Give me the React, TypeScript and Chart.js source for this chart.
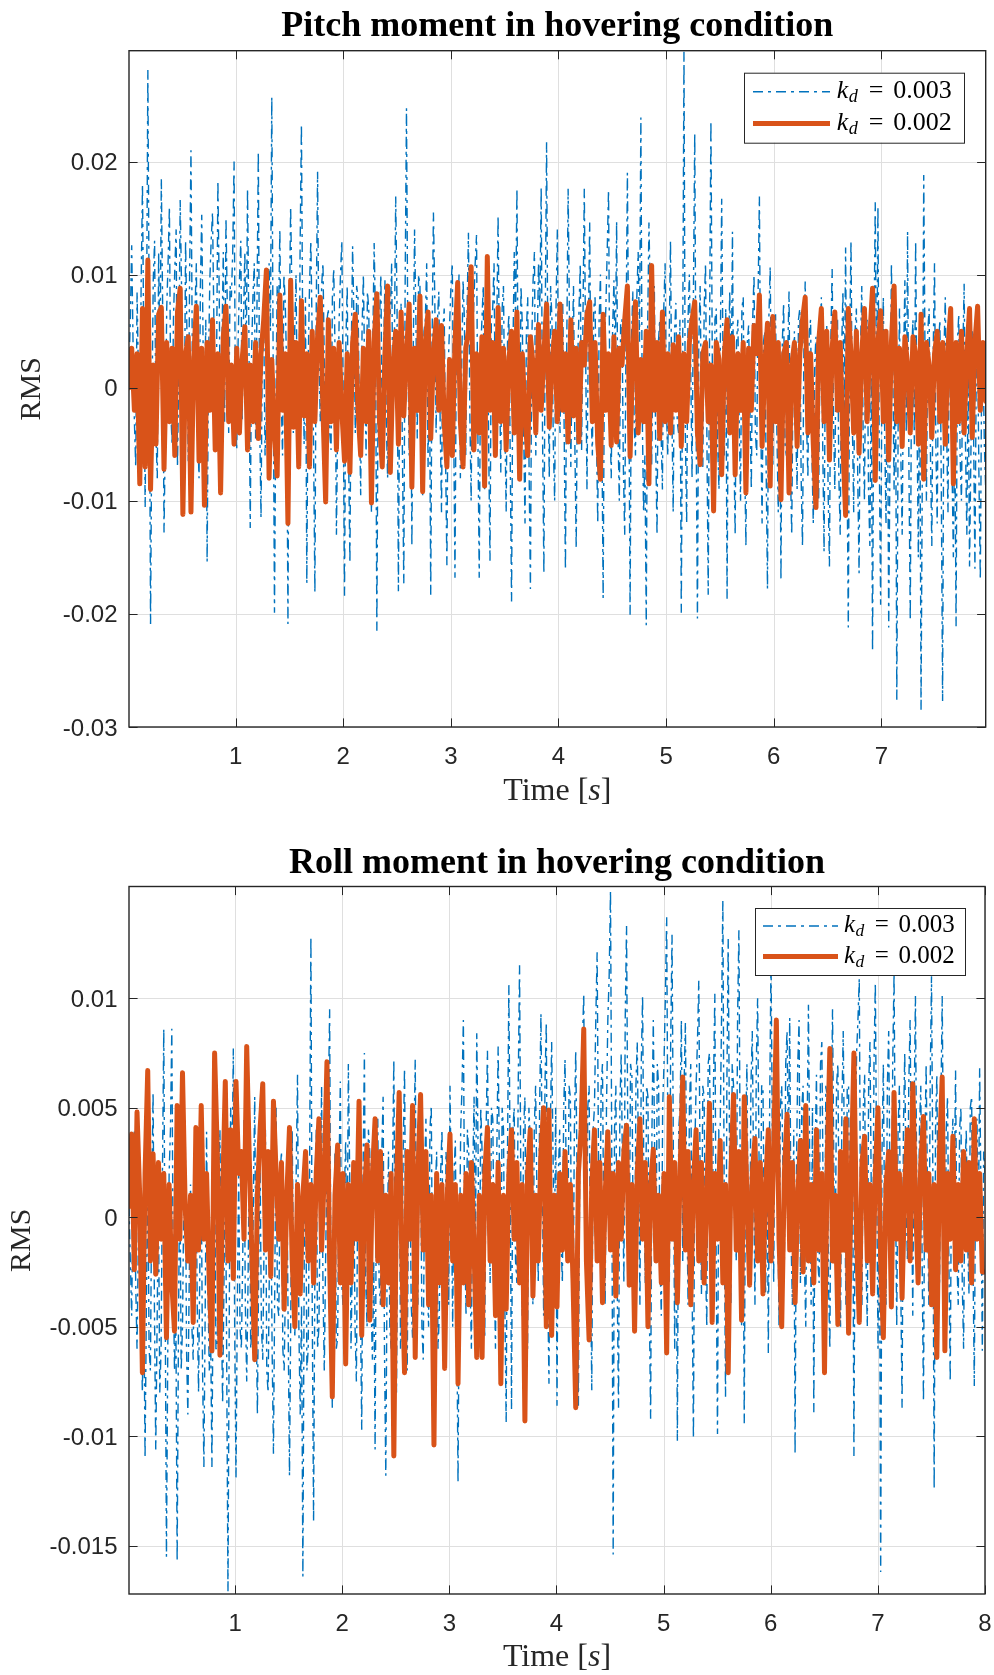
import React, { useEffect, useRef } from "react";
import { Chart, registerables } from "chart.js";

Chart.register(...registerables);

// ---------------- data (values in units of 1e-4) ----------------
const SERIES_LABELS = ["0.003", "0.002"];

const PITCH_TIME = [0.01, 7.97];
const PITCH_X_TICKS = [1, 2, 3, 4, 5, 6, 7];
const PITCH_Y_TICKS = [-0.03, -0.02, -0.01, 0, 0.01, 0.02];
const PITCH_Y_RANGE = [-0.03, 0.0298];

const ROLL_TIME = [0.01, 8.0];
const ROLL_X_TICKS = [1, 2, 3, 4, 5, 6, 7, 8];
const ROLL_Y_TICKS = [-0.015, -0.01, -0.005, 0, 0.005, 0.01];
const ROLL_Y_RANGE = [-0.0172, 0.0151];

const PITCH_KD3 = [
  20, 60, 126, 40, -30, -70, 85, 10, -55, 90, 180, 30, -106, 50, 281, 60, -209, -20, 95, 130, -40, -80, 120, 20, 185, 70, -128, -40, 70, 110, 160, -20, -50, 60, 105, 140, -70, 20, 166, 90, -30, -60, 130, 50, -65, 100, 210, 30, -20, 70, 110, -40, -80, 90, 153, 40, -35, 60, -154, 20, 95, 130, 155, 60, -45, 20, 183, 80, -60, 40, 120, -30, 150, 70, -40, 90, 80, 120, 200, -20,
  -55, 40, 95, 130, -30, 60, 120, 20, 176, 50, -124, 30, 80, 110, -45, 70, 209, -30, -115, 40, 60, -60, -20, 90, 110, 50, 257, 30, -199, -20, 90, 60, 140, -10, -60, 100, 75, 20, -209, 60, 160, 80, -40, 50, 100, -30, -70, 120, 233, 40, -50, 80, -173, 20, 90, 130, 45, -50, -181, 70, 191, 30, -30, 90, 110, 20, -90, 60, 70, -40, -55, 80, 105, 30, -130, -20, 60, 100, 130, -10,
  -184, 40, 90, -60, -155, 30, 125, 60, -40, 90, 80, -20, -95, 50, 100, 10, -60, 85, 70, -50, -110, 40, 128, 60, -215, 20, 60, 100, -50, 30, 95, -30, -80, 80, 65, 110, -30, 40, 169, 70, -180, 20, 75, -60, -173, 90, 247, 40, -60, 50, -140, 30, 140, 60, -45, 100, 90, -20, -95, 50, 60, 110, -70, 30, -183, 40, 155, 80, -40, 60, 85, -30, -110, 50, 70, -60, -157, 20, 55, 90,
  110, -30, -168, 40, 50, 100, -80, 20, 95, 60, -60, 70, 137, -20, -100, 40, 75, 110, 135, -40, -168, 30, 60, 90, -90, 40, 85, -50, -153, 60, 70, 110, -40, 50, 152, 20, -75, 70, 90, -30, -110, 40, 65, -60, -189, 30, 120, 60, 176, -20, -70, 90, 55, -40, -120, 50, 80, -70, -178, 40, 95, 120, -60, 30, 110, 70, 177, -40, -164, 60, 217, 20, -80, 90, 60, -50, -100, 70, 140, -10,
  -40, 50, 75, -30, -161, 40, 176, 60, -70, 30, 90, -50, -142, 20, 65, 110, -55, 60, 176, 30, -90, 50, 146, -20, -60, 70, 80, -40, -120, 60, 100, -30, -186, 40, 70, 120, 175, -20, -80, 50, 95, 20, 147, -40, -100, 60, 60, -70, -130, 50, 190, 20, -201, 40, 85, -30, -60, 80, 120, 40, 239, -20, -110, -60, -210, 50, 146, 80, -70, 30, 90, -50, -130, 40, 60, -40, -90, 70, 110, -20,
  -60, 40, 130, -20, -110, 50, 75, -30, -40, 60, -199, 20, 297, -40, -120, 60, 100, 20, -80, 80, 225, -30, -204, 40, 90, -20, -70, 70, 110, -40, -183, 50, 236, 30, -110, 60, 70, -50, -90, 40, 167, 20, -60, 70, -187, 30, 85, -20, 138, -50, -130, 40, 60, -30, -100, 70, 80, -60, -140, 40, 55, -20, -90, 60, 100, -40, -60, 80, 169, -30, -120, 40, 50, -70, -178, 60, 107, -20, -70, 50,
  65, -40, -110, 20, -170, 40, 75, -50, -60, 30, 85, -70, -130, 20, 50, -40, -90, 60, 70, -80, -140, 30, 94, -30, -80, 50, 60, -60, -120, 20, 45, -70, -100, 40, 80, -50, -145, 30, 55, -90, -158, 40, 105, -30, -90, 50, 60, -80, -130, 30, 85, -20, 124, -60, -212, 40, 130, -30, -110, 50, 70, -80, -164, 30, 90, -40, -100, 50, 60, -90, -140, 20, -233, 40, 164, -20, 160, -60, -192, 20,
  80, -40, -120, 30, -212, -50, 110, 20, -90, 40, -276, -30, 70, -60, -130, 20, 95, -40, 138, -70, -206, 30, 60, -50, 130, -30, -150, 40, -285, -60, 188, 20, -100, 50, 70, -60, -140, 30, 110, -50, -120, 40, 60, -80, -277, 30, 80, -40, -110, 50, 55, -70, -150, -20, -211, 40, 65, -60, -100, 30, 92, -50, -130, 20, -158, -60, 50, -40, -160, 20, 40, -80, -170, 10, 30, -50, -90,
];

const PITCH_KD2 = [
  0, 35, -20, 30, -85, 70, -70, 113, -90, 20, -50, 65, 71, -72, 40, -30, 35, -60, 67, 88, -112, 30, 45, -110, 25, 72, -65, 35, -104, 40, -20, 60, -55, 30, -93, 45, 72, -30, 20, -50,
  35, -40, 25, 54, -55, 20, -30, 40, -45, 30, 60, 104, -80, 25, -40, -78, 82, -20, 30, -120, 95, -35, 40, -70, 77, -25, 30, -70, 50, -30, 45, 80, -20, -101, 60, -30, 35, -55, 40, -20,
  -65, 30, -75, 40, 65, -20, -60, 35, -30, 50, -102, 40, 83, -30, -70, 30, 90, -75, 20, 50, -50, 67, -25, 30, 74, -88, 35, -20, 81, -92, 40, 67, -45, 30, 60, -20, 55, -30, -70, 25,
  -60, 40, 93, -30, -70, 35, 50, 107, -55, 30, -40, 45, -87, 116, -20, 40, -60, 71, -30, 35, -55, 25, 50, -40, 67, -81, 30, -25, -60, 45, 20, -40, 56, -20, 30, 74, -35, 20, 50, -30,
  74, -20, 30, -48, 60, -25, 35, -48, 40, 20, 65, 76, -30, 40, -50, -81, 65, -20, 30, -51, 45, -48, 35, 20, 60, 90, -61, 30, 76, -40, 25, -30, 50, -85, 108, -20, 40, -45, 67, -30,
  30, -40, 38, -20, 45, -52, 30, -30, 40, 60, 76, -40, -68, 30, 40, -30, 20, -109, 40, 25, -77, 30, 60, -40, 45, -77, 30, -20, 40, -93, 35, -20, 55, 30, 82, -52, 20, 57, -87, 63,
  -30, 40, -99, 30, 40, -93, 20, 40, -52, 30, 60, 80, -40, 30, -50, -106, 40, 70, -30, 50, -64, 35, 67, -20, 40, -50, -113, 70, 30, -40, 50, -58, 30, 70, -30, 45, 88, -82, 40, 68,
  -30, 50, -64, 40, 90, -30, 35, -52, 45, 20, -40, 45, 30, -50, 65, -81, 40, 20, -44, 30, 50, -30, 40, -50, 35, 70, -85, 40, -30, 50, -40, 30, 70, -44, 40, 72, -20, 40, -12,
];

const ROLL_KD3 = [
  5, -20, -45, 10, 40, -30, -60, -10, 20, -50, -80, -30, -110, -40, 30, -60, -70, 10, 57, -40, -106, -50, 10, -80, -60, 20, 86, -30, -155, -60, 20, 40, 86, -20, -70, -40, -157, -50, 30, -70, -50, 10, 45, -60, -90, -30, 15, -50, -65, 10, 35, -40, -80, -20, 20, -70, -114, -40, 39, -30, -70, -50, -114, -20, 25, -60, -60, 10, 40, -40, -85, -30, 30, -60, -171, -40, 50, 20, 77, -50,
  -119, -40, 20, -50, -60, -20, 45, -40, -75, -30, 30, -60, -50, 10, 55, -40, -90, -20, 25, -50, -65, -10, 40, -70, -80, -20, 15, -60, -108, -30, 50, -40, -45, 20, 30, -60, -70, -30, 20, -50, -118, -40, 40, -30, -55, 20, 65, -50, -90, -40, -164, -20, 30, -70, -60, 20, 128, -40, -139, -20, 40, -60, -50, 10, 60, -30, -70, -20, 25, 50, 95, -40, -87, -20, 30, -60, -55, 20, 62, -30,
  -40, 10, 35, -30, 70, 20, -60, -20, 20, -50, -75, 10, 40, -40, -97, 20, 75, -30, -50, 40, 30, -40, -65, -20, -106, 20, 45, -30, -40, 30, 55, -60, -118, -20, 30, -50, -60, 20, 72, -30, -80, 10, 40, -60, -45, 30, 68, -20, -70, 10, 25, -40, -55, 30, 72, -20, -40, 40, 35, -50, -65, 20, 45, -30, -50, 40, 51, -40, -85, 10, 30, -60, -45, 20, 40, -30, -60, 30, 20, -40,
  60, 10, -50, 20, 35, -40, -121, -20, 40, 60, 90, -10, -45, 40, 30, -30, -60, 20, 55, -20, 84, 30, -40, 50, 30, -30, -55, 40, 76, 10, -30, 50, 45, -20, -60, 30, 78, 20, -35, 50, 40, -40, -94, 30, 106, 20, -88, 40, 50, -20, -30, 60, 115, 10, -45, 40, 55, -30, -60, 50, 35, -20, -40, 40, 60, 10, -30, 50, 93, 20, -45, 60, 89, -30, -76, 40, 80, 30, -20, 50,
  -86, 20, 40, -10, -30, 50, 72, 10, -20, 60, 55, -30, -40, 40, 76, 20, -86, 30, 45, 80, 102, 10, -30, 50, 60, -20, -79, 40, 50, 90, 121, 30, -20, 60, 70, -10, -40, 50, 90, 110, 149, 20, -154, 40, 60, -30, -87, 50, 75, 20, -30, 90, 133, 30, -20, 70, 65, -10, -50, 60, 80, 20, -40, 70, 101, 10, -30, 60, 55, -40, -92, 40, 90, 30, -20, 70, 60, -20, -45, 50,
  70, 100, 137, 20, -30, 80, 129, 30, -60, 20, -102, 40, 50, 90, -20, 60, 89, 10, -40, 50, 70, -30, -101, 30, 60, 80, 108, 20, -35, 60, 55, -20, -50, 70, 75, 10, -30, 60, 102, -20, -99, 40, 40, 90, 145, 10, -82, 60, 127, 30, -40, 70, 60, 10, -20, 90, 131, 20, -50, 30, -94, 40, 70, -10, -30, 60, 85, 20, -40, 70, 100, 30, -20, 60, 60, -10, -35, 40, -62, 50,
  118, 40, -30, 60, 75, 10, -50, 50, 60, 20, -20, 70, 85, 30, 91, -10, -40, 40, -108, 20, 70, 90, -30, 50, 60, -20, -50, 40, 97, 20, -40, 50, -89, 30, 65, -20, -30, 70, 80, 10, -45, 60, 55, -30, -60, 40, 95, 20, -20, 60, 70, -10, -50, 50, 85, 20, -40, 60, 60, -20, -30, 40, -109, 30, 75, 90, 109, -10, -40, 50, 65, -20, -50, 60, 80, 10, -30, 70, 107, 20,
  -60, 20, -162, 30, 70, -10, -40, 60, 85, 10, -30, 70, 111, 20, -50, 40, 60, -30, -87, 40, 75, 10, -20, 60, 90, 20, -45, 50, 101, 10, -30, 40, 60, -20, -84, 30, 70, 10, -40, 60, 110, 20, -124, 40, 65, -10, -30, 50, 101, 20, -50, 40, 55, -20, -75, 30, 45, 10, 67, -20, -40, 40, 50, -30, -60, 20, 40, -10, -35, 50, 55, -20, -77, 30, 45, -10, 68, 10, -61, 30, 20,
];

const ROLL_KD2 = [
  5, 38, -24, 48, 10, -71, 20, 67, -20, 29, -26, 25, -10, 20, -55, 15, -30, -52, 51, -10, 66, 5, -20, 10, -48, 41, -15, 51, -10, 20, -30, -61, 75, 30, -63, 10, 62, -20, 40, -28,
  62, 20, 30, -10, 78, 25, -20, -65, 10, 40, 61, -15, 30, -27, 53, 20, -10, 25, -42, 10, 41, -20, -50, 15, -35, 10, 30, -20, 15, -30, 20, 45, -15, 20, 71, -20, -82, 10, 33, -30,
  20, -67, 15, -30, 25, -10, 53, -54, 10, 33, -47, 20, 45, -20, 30, -40, 10, -30, 20, -109, 15, 57, -20, -71, 30, -10, 51, -64, 20, 56, -15, 30, -40, 10, -104, 20, -30, 15, -69, 10,
  38, -20, 15, -76, 10, -30, 20, -40, 25, -15, -64, 10, -64, 20, 41, -20, 15, -45, 25, -76, 10, -42, 20, 40, -10, 25, -30, 15, -93, 20, 40, -36, 10, -20, 30, 50, -50, 49, -54, 10,
  -41, 20, -15, 30, -20, 15, -30, -87, 20, 40, 86, -20, -56, 15, 40, -20, 25, -39, 10, 39, -15, 20, -36, 25, -10, 30, 42, -31, 15, -52, 20, 45, -10, 25, -50, 15, 31, -20, 10, -30,
  20, -62, 55, -10, 25, -39, 20, 64, -15, 30, -40, 15, 40, -20, 25, -30, 10, 52, -48, 20, -10, 35, -30, 15, -71, 20, 56, -15, 30, -47, 55, 10, -31, 20, 36, -20, 25, -35, 15, 40,
  -20, 30, 90, -10, -50, 20, 47, -15, 25, -39, 10, 35, -25, 51, -20, 15, -30, 40, -15, 20, -71, 25, 77, -20, 10, -49, 30, -15, 45, -53, 20, 75, -10, -48, 25, 37, -20, 15, -35, 20,
  50, -20, -55, 15, 30, -41, 57, -10, 20, -37, 15, 40, -20, 61, 10, -30, 25, 46, -15, 20, -40, 15, -64, 30, 64, -61, 20, -10, 37, -24, 15, -20, 30, -15, 25, -30, 45, -10, 20, -25, -25,
];

// ---------------- styles ----------------
const BLUE = "#0072BD";
const ORANGE = "#D95319";
const AXIS = "#262626";
const GRID = "#dfdfdf";
const SERIF = "'Liberation Serif', 'Times New Roman', serif";
const SANS = "'Liberation Sans', Arial, Helvetica, sans-serif";
const BLUE_DASH = [10, 5, 3, 5];
const BLUE_WIDTH = 1.4;
const ORANGE_WIDTH = 5;

function toPoints(values: number[], range: number[]) {
  const step = (range[1] - range[0]) / (values.length - 1);
  return values.map((v, i) => ({ x: range[0] + i * step, y: v / 10000 }));
}

function fmt(v: number) {
  return v === 0 ? "0" : String(v);
}

type LegendCfg = {
  w: number; h: number; right: number; top: number;
  lineStart: number; lineEnd: number; textStart: number; font: number;
};

type PanelCfg = {
  title: string;
  xTicks: number[];
  yTicks: number[];
  legend: LegendCfg;
  titleOffset: number;
  xlabelOffset: number;
  ylabelX: number;
};

function makePlugin(cfg: PanelCfg) {
  return {
    id: "matlabAxes",
    beforeDatasetsDraw(chart: any) {
      const { ctx, chartArea: a, scales } = chart;
      ctx.save();
      ctx.strokeStyle = GRID;
      ctx.lineWidth = 1;
      ctx.beginPath();
      cfg.xTicks.forEach((v) => {
        const x = Math.round(scales.x.getPixelForValue(v)) + 0.5;
        ctx.moveTo(x, a.top);
        ctx.lineTo(x, a.bottom);
      });
      cfg.yTicks.forEach((v) => {
        const y = Math.round(scales.y.getPixelForValue(v)) + 0.5;
        ctx.moveTo(a.left, y);
        ctx.lineTo(a.right, y);
      });
      ctx.stroke();
      ctx.restore();
    },
    afterDatasetsDraw(chart: any) {
      const { ctx, chartArea: a, scales } = chart;
      ctx.save();
      const L = 8.6;
      ctx.strokeStyle = AXIS;
      ctx.lineWidth = 1;
      ctx.beginPath();
      cfg.xTicks.forEach((v) => {
        const x = Math.round(scales.x.getPixelForValue(v)) + 0.5;
        ctx.moveTo(x, a.bottom);
        ctx.lineTo(x, a.bottom - L);
        ctx.moveTo(x, a.top);
        ctx.lineTo(x, a.top + L);
      });
      cfg.yTicks.forEach((v) => {
        const y = Math.round(scales.y.getPixelForValue(v)) + 0.5;
        ctx.moveTo(a.left, y);
        ctx.lineTo(a.left + L, y);
        ctx.moveTo(a.right, y);
        ctx.lineTo(a.right - L, y);
      });
      ctx.stroke();
      ctx.lineWidth = 1.4;
      ctx.strokeRect(a.left, a.top, a.right - a.left, a.bottom - a.top);

      // legend
      const lg = cfg.legend;
      const x0 = a.right - lg.right - lg.w;
      const y0 = a.top + lg.top;
      ctx.fillStyle = "#ffffff";
      ctx.fillRect(x0, y0, lg.w, lg.h);
      ctx.strokeStyle = AXIS;
      ctx.lineWidth = 1;
      ctx.strokeRect(x0 + 0.5, y0 + 0.5, lg.w, lg.h);
      const entries = [
        { label: SERIES_LABELS[0], color: BLUE, width: BLUE_WIDTH, dash: BLUE_DASH },
        { label: SERIES_LABELS[1], color: ORANGE, width: ORANGE_WIDTH, dash: [] as number[] },
      ];
      entries.forEach((e, i) => {
        const base = y0 + lg.h * (i === 0 ? 0.365 : 0.82);
        const ly = base - 6.5;
        ctx.save();
        ctx.strokeStyle = e.color;
        ctx.lineWidth = e.width;
        ctx.setLineDash(e.dash);
        ctx.beginPath();
        ctx.moveTo(x0 + lg.lineStart, ly);
        ctx.lineTo(x0 + lg.lineEnd, ly);
        ctx.stroke();
        ctx.restore();

        const fs = lg.font;
        let x = x0 + lg.textStart;
        ctx.fillStyle = "#000000";
        ctx.textAlign = "left";
        ctx.textBaseline = "alphabetic";
        ctx.font = `italic ${fs}px ${SERIF}`;
        ctx.fillText("k", x, base);
        x += ctx.measureText("k").width + 0.5;
        ctx.font = `italic ${fs * 0.7}px ${SERIF}`;
        ctx.fillText("d", x, base + fs * 0.16);
        x += ctx.measureText("d").width + fs * 0.42;
        ctx.font = `${fs}px ${SERIF}`;
        ctx.fillText("=", x, base);
        x += ctx.measureText("=").width + fs * 0.38;
        ctx.fillText(e.label, x, base);
      });
      ctx.restore();
    },
    afterDraw(chart: any) {
      const { ctx, chartArea: a, scales } = chart;
      ctx.save();
      ctx.fillStyle = AXIS;
      ctx.font = `24px ${SANS}`;
      ctx.textBaseline = "alphabetic";
      ctx.textAlign = "center";
      cfg.xTicks.forEach((v) => {
        ctx.fillText(fmt(v), scales.x.getPixelForValue(v), a.bottom + 37);
      });
      ctx.textAlign = "right";
      cfg.yTicks.forEach((v) => {
        ctx.fillText(fmt(v), a.left - 11.5, scales.y.getPixelForValue(v) + 8.5);
      });

      const cx = (a.left + a.right) / 2;
      ctx.fillStyle = "#000000";
      ctx.textAlign = "center";
      ctx.font = `bold 36px ${SERIF}`;
      ctx.fillText(cfg.title, cx, a.top - cfg.titleOffset);

      ctx.fillStyle = AXIS;
      const parts: [string, string][] = [
        ["Time [", `32px ${SERIF}`],
        ["s", `italic 32px ${SERIF}`],
        ["]", `32px ${SERIF}`],
      ];
      let total = 0;
      parts.forEach(([t, f]) => {
        ctx.font = f;
        total += ctx.measureText(t).width;
      });
      let x = cx - total / 2;
      ctx.textAlign = "left";
      const by = a.bottom + cfg.xlabelOffset;
      parts.forEach(([t, f]) => {
        ctx.font = f;
        ctx.fillText(t, x, by);
        x += ctx.measureText(t).width;
      });

      ctx.translate(cfg.ylabelX, (a.top + a.bottom) / 2);
      ctx.rotate(-Math.PI / 2);
      ctx.textAlign = "center";
      ctx.font = `30px ${SERIF}`;
      ctx.fillText("RMS", 0, 0);
      ctx.restore();
    },
  };
}

function buildChart(
  canvas: HTMLCanvasElement,
  k3: number[],
  k2: number[],
  time: number[],
  yRange: number[],
  padding: { left: number; top: number; right: number; bottom: number },
  cfg: PanelCfg
) {
  return new Chart(canvas, {
    type: "line",
    data: {
      datasets: [
        {
          label: SERIES_LABELS[0],
          data: toPoints(k3, time),
          borderColor: BLUE,
          borderWidth: BLUE_WIDTH,
          borderDash: BLUE_DASH,
          pointRadius: 0,
          tension: 0,
          fill: false,
          clip: 0,
          order: 2,
        },
        {
          label: SERIES_LABELS[1],
          data: toPoints(k2, time),
          borderColor: ORANGE,
          borderWidth: ORANGE_WIDTH,
          borderJoinStyle: "round",
          borderCapStyle: "round",
          pointRadius: 0,
          tension: 0,
          fill: false,
          clip: 0,
          order: 1,
        },
      ] as any,
    },
    options: {
      responsive: false,
      animation: false,
      devicePixelRatio: 1,
      parsing: false,
      normalized: true,
      events: [],
      layout: { padding, autoPadding: false } as any,
      plugins: {
        legend: { display: false },
        tooltip: { enabled: false },
        title: { display: false },
      },
      scales: {
        x: { type: "linear", display: false, min: time[0], max: time[1] },
        y: { type: "linear", display: false, min: yRange[0], max: yRange[1] },
      },
    } as any,
    plugins: [makePlugin(cfg) as any],
  });
}

export default function App() {
  const topRef = useRef<HTMLCanvasElement>(null);
  const botRef = useRef<HTMLCanvasElement>(null);

  useEffect(() => {
    const c1 = buildChart(
      topRef.current!,
      PITCH_KD3,
      PITCH_KD2,
      PITCH_TIME,
      PITCH_Y_RANGE,
      { left: 129, top: 50.7, right: 8.3, bottom: 93 },
      {
        title: "Pitch moment in hovering condition",
        xTicks: PITCH_X_TICKS,
        yTicks: PITCH_Y_TICKS,
        legend: { w: 220, h: 70, right: 21.7, top: 22, lineStart: 9, lineEnd: 86, textStart: 92.7, font: 26 },
        titleOffset: 15,
        xlabelOffset: 73,
        ylabelX: 39.5,
      }
    );
    const c2 = buildChart(
      botRef.current!,
      ROLL_KD3,
      ROLL_KD2,
      ROLL_TIME,
      ROLL_Y_RANGE,
      { left: 129, top: 66.5, right: 9, bottom: 81 },
      {
        title: "Roll moment in hovering condition",
        xTicks: ROLL_X_TICKS,
        yTicks: ROLL_Y_TICKS,
        legend: { w: 210, h: 67, right: 20, top: 21.5, lineStart: 8, lineEnd: 83, textStart: 89, font: 25 },
        titleOffset: 14,
        xlabelOffset: 72,
        ylabelX: 30,
      }
    );
    return () => {
      c1.destroy();
      c2.destroy();
    };
  }, []);

  return (
    <div style={{ position: "absolute", left: 0, top: 0, width: 994, height: 1675, background: "#ffffff", overflow: "hidden" }}>
      <canvas ref={topRef} width={994} height={820} style={{ position: "absolute", left: 0, top: 0 }} />
      <canvas ref={botRef} width={994} height={855} style={{ position: "absolute", left: 0, top: 820 }} />
    </div>
  );
}
